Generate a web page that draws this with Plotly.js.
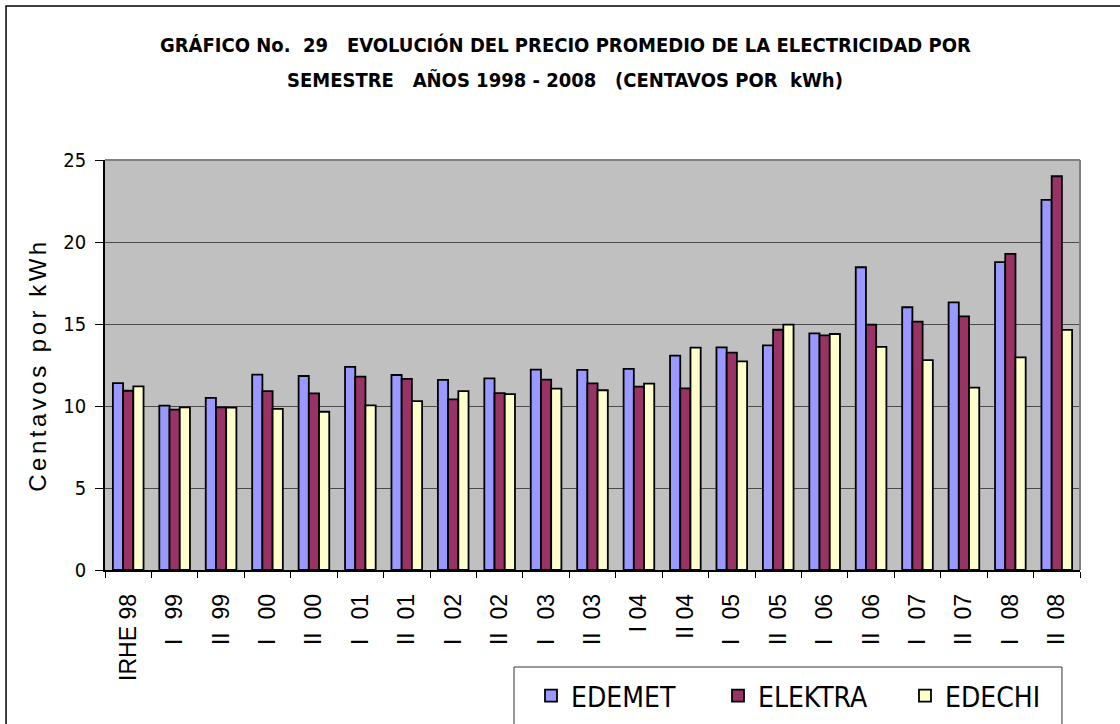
<!DOCTYPE html>
<html>
<head>
<meta charset="utf-8">
<script src="https://cdn.plot.ly/plotly-3.0.1.min.js"></script>
<style>
  html, body { margin: 0; padding: 0; background: #ffffff; }
  #chart { width: 1120px; height: 724px; }
</style>
</head>
<body>
<div id="chart"></div>
<script>
const categories = ["IRHE 98", "I\u00a0\u00a0\u00a099", "II\u00a0\u00a099", "I\u00a0\u00a0\u00a000", "II\u00a0\u00a000",
  "I\u00a0\u00a0\u00a001", "II\u00a0\u00a001", "I\u00a0\u00a0\u00a002", "II\u00a0\u00a002", "I\u00a0\u00a0\u00a003",
  "II\u00a0\u00a003", "I 04", "II 04", "I\u00a0\u00a0\u00a005", "II\u00a0\u00a005", "I\u00a0\u00a0\u00a006",
  "II\u00a0\u00a006", "I\u00a0\u00a0\u00a007", "II\u00a0\u00a007", "I\u00a0\u00a0\u00a008", "II\u00a0\u00a008"];
const edemet  = [11.40, 10.02, 10.49, 11.91, 11.83, 12.38, 11.89, 11.59, 11.69, 12.22, 12.20, 12.26, 13.07, 13.58, 13.70, 14.43, 18.46, 16.02, 16.32, 18.77, 22.57];
const elektra = [10.93, 9.78, 9.92, 10.91, 10.77, 11.79, 11.65, 10.41, 10.79, 11.61, 11.38, 11.18, 11.08, 13.25, 14.65, 14.31, 14.96, 15.14, 15.47, 19.28, 24.01];
const edechi  = [11.20, 9.92, 9.90, 9.82, 9.65, 10.04, 10.30, 10.91, 10.73, 11.06, 10.96, 11.36, 13.56, 12.72, 14.96, 14.39, 13.60, 12.80, 11.12, 12.97, 14.64];
const seriesNames = ["EDEMET", "ELEKTRA", "EDECHI"];
const titleLines = ["GRÁFICO No.  29   EVOLUCIÓN DEL PRECIO PROMEDIO DE LA ELECTRICIDAD POR",
                    "SEMESTRE   AÑOS 1998 - 2008   (CENTAVOS POR  kWh)"];
const yTitle = "Centavos por kWh";

const narrow = "'DejaVu Sans Condensed', 'Liberation Sans Narrow', sans-serif";
const regular = "'Liberation Sans', Arial, sans-serif";
const colors = ["#9999FF", "#993366", "#FFFFCC"];
const values = [edemet, elektra, edechi];

const traces = values.map((v, i) => ({
  type: "bar",
  name: seriesNames[i],
  x: categories,
  y: v,
  marker: { color: colors[i], line: { color: "#000000", width: 1.8 } },
  hoverinfo: "x+y+name"
}));

const nb = s => s.replace(/ {2,}/g, m => "\u00a0".repeat(m.length));

const layout = {
  width: 1120,
  height: 724,
  margin: { l: 105, r: 40, t: 160, b: 154, pad: 0 },
  paper_bgcolor: "#ffffff",
  plot_bgcolor: "#C0C0C0",
  barmode: "group",
  bargap: 0.34,
  bargroupgap: 0,
  showlegend: true,
  legend: {
    orientation: "h",
    xref: "container", yref: "container",
    x: 531 / 1120, xanchor: "left",
    y: 1 - 671 / 724, yanchor: "top",
    bgcolor: "rgba(0,0,0,0)",
    borderwidth: 0,
    font: { family: narrow, size: 28, color: "#000000" },
    entrywidth: 142,
    entrywidthmode: "pixels",
    traceorder: "normal"
  },
  xaxis: {
    type: "category",
    showline: true, linecolor: "#000000", linewidth: 1.5,
    ticks: "outside", tickson: "boundaries", ticklen: 6, tickcolor: "#000000", tickwidth: 1,
    tickangle: -90,
    tickfont: { family: regular, size: 23, color: "#000000" },
    ticklabelstandoff: 13,
    showgrid: false,
    automargin: false,
    fixedrange: true
  },
  yaxis: {
    range: [0, 25],
    dtick: 5,
    tick0: 0,
    showline: true, linecolor: "#000000", linewidth: 1.5,
    ticks: "outside", ticklen: 8, tickcolor: "#000000", tickwidth: 1,
    ticklabelstandoff: 5,
    tickfont: { family: narrow, size: 20, color: "#000000" },
    showgrid: true, gridcolor: "#4a4a4a", gridwidth: 1,
    zeroline: false,
    automargin: false,
    fixedrange: true,
    title: { text: yTitle, font: { family: regular, size: 24, color: "#000000" }, standoff: 10 }
  },
  annotations: titleLines.map((t, i) => ({
    text: "<b>" + nb(t) + "</b>",
    xref: "paper", yref: "paper",
    x: 0.4718, y: i === 0 ? 1.2805 : 1.1951,
    xanchor: "center", yanchor: "middle",
    showarrow: false,
    font: { family: narrow, size: 20, color: "#000000" }
  })),
  shapes: [
    { type: "line", xref: "paper", yref: "paper", x0: 0, x1: 1, y0: 1, y1: 1, line: { color: "#808080", width: 2 } },
    { type: "line", xref: "paper", yref: "paper", x0: 1, x1: 1, y0: 0, y1: 1, line: { color: "#808080", width: 2 } },
    { type: "rect", xref: "paper", yref: "paper", x0: 0.4195, x1: 0.9815, y0: -0.2366, y1: -0.45, line: { color: "#333333", width: 1 } },
    { type: "rect", xref: "paper", yref: "paper", x0: -0.1015, x1: 1.06, y0: 1.3756, y1: -0.45, line: { color: "#000000", width: 1.5 } }
  ]
};

function spaceTitle() {
  document.querySelectorAll("text.ytitle").forEach(t => {
    t.style.letterSpacing = "3.5px";
  });
}

Plotly.newPlot("chart", traces, layout, { displayModeBar: false }).then(gd => {
  spaceTitle();
  gd.on("plotly_afterplot", spaceTitle);
});
</script>
</body>
</html>
